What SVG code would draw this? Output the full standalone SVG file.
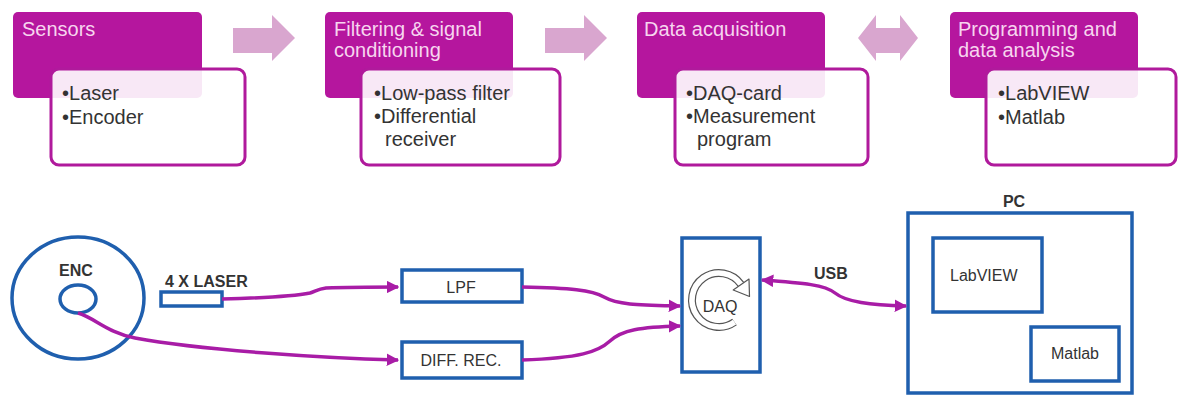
<svg xmlns="http://www.w3.org/2000/svg" width="1178" height="396" viewBox="0 0 1178 396">
<defs>
<style>
.hdr{fill:#b5169e;}
.card{fill:#ffffff;fill-opacity:0.9;stroke:#b01a9c;stroke-width:3;}
.ht{font-family:"Liberation Sans",Arial,sans-serif;font-size:20px;fill:#f7d5ef;}
.bt{font-family:"Liberation Sans",Arial,sans-serif;font-size:20px;fill:#333333;}
.flow{fill:#d9a6cf;}
.blue{fill:#ffffff;stroke:#1f5fae;stroke-width:3.5;}
.lbl{font-family:"Liberation Sans",Arial,sans-serif;font-size:16px;fill:#333333;}
.bl{font-family:"Liberation Sans",Arial,sans-serif;font-size:16px;font-weight:bold;fill:#333333;}
.con{fill:none;stroke:#a81ca6;stroke-width:3.5;}
</style>
<marker id="ah" viewBox="0 0 10 10" refX="9" refY="5" markerWidth="3.6" markerHeight="3.6" orient="auto-start-reverse" markerUnits="strokeWidth">
<path d="M0,0 L10,5 L0,10 z" fill="#a81ca6"/>
</marker>
</defs>

<g id="stage-sensors">
<rect class="hdr" x="13" y="12" width="189" height="86" rx="5"/>
<rect class="card" x="51" y="69" width="194" height="96" rx="8"/>
<text class="ht" x="22" y="36">Sensors</text>
<text class="bt" x="62" y="100">•Laser</text>
<text class="bt" x="62" y="124">•Encoder</text>
</g>

<g id="stage-filtering">
<rect class="hdr" x="325" y="12" width="188" height="86" rx="5"/>
<rect class="card" x="361" y="69" width="199" height="96" rx="8"/>
<text class="ht" x="334" y="36">Filtering &amp; signal</text>
<text class="ht" x="334" y="57">conditioning</text>
<text class="bt" x="374" y="100">•Low-pass filter</text>
<text class="bt" x="374" y="123">•Differential</text>
<text class="bt" x="385" y="146">receiver</text>
</g>

<g id="stage-daq">
<rect class="hdr" x="637" y="12" width="188" height="86" rx="5"/>
<rect class="card" x="675" y="69" width="193" height="96" rx="8"/>
<text class="ht" x="644" y="36">Data acquisition</text>
<text class="bt" x="686" y="100">•DAQ-card</text>
<text class="bt" x="686" y="123">•Measurement</text>
<text class="bt" x="697" y="146">program</text>
</g>

<g id="stage-programming">
<rect class="hdr" x="950" y="12" width="188" height="86" rx="5"/>
<rect class="card" x="986" y="69" width="190" height="96" rx="8"/>
<text class="ht" x="958" y="36">Programming and</text>
<text class="ht" x="958" y="57">data analysis</text>
<text class="bt" x="998" y="100">•LabVIEW</text>
<text class="bt" x="998" y="124">•Matlab</text>
</g>

<g id="flow-arrows">
<path class="flow" d="M233,28 L272,28 L272,15 L295,38 L272,61 L272,53 L233,53 z"/>
<path class="flow" d="M545,28 L584,28 L584,15 L607,38 L584,61 L584,53 L545,53 z"/>
<path class="flow" d="M858,38 L876,15 L876,28 L900,28 L900,15 L918,38 L900,61 L900,53 L876,53 L876,61 z"/>
</g>

<g id="encoder">
<ellipse class="blue" cx="78" cy="298" rx="66" ry="61" fill="none"/>
<ellipse class="blue" cx="78" cy="299" rx="18" ry="14"/>
<text class="bl" x="76" y="276" text-anchor="middle">ENC</text>
</g>

<g id="laser">
<rect class="blue" x="161" y="292" width="61" height="14" stroke-width="3"/>
<text class="bl" x="165" y="287">4 X LASER</text>
</g>

<g id="lpf">
<rect class="blue" x="402" y="270" width="120" height="32"/>
<text class="lbl" x="461" y="293" text-anchor="middle">LPF</text>
</g>

<g id="diffrec">
<rect class="blue" x="402" y="342" width="120" height="36"/>
<text class="lbl" x="461" y="366" text-anchor="middle">DIFF. REC.</text>
</g>

<g id="daq">
<rect class="blue" x="682" y="238" width="78" height="134"/>
<path d="M734.5,322.1 A27,27 0 1 1 741.1,284.5" fill="none" stroke="#555555" stroke-width="8"/>
<path d="M734.5,322.1 A27,27 0 1 1 741.1,284.5" fill="none" stroke="#ffffff" stroke-width="5.6"/>
<path d="M749,279 L733.2,290 L749.5,296.5 Z" fill="#ffffff" stroke="#555555" stroke-width="1.2" stroke-linejoin="round"/>
<text class="lbl" x="720" y="312" text-anchor="middle">DAQ</text>
</g>

<g id="pc">
<rect class="blue" x="908" y="213" width="224" height="180"/>
<text class="bl" x="1014" y="207" text-anchor="middle">PC</text>
</g>

<g id="labview">
<rect class="blue" x="933" y="238" width="109" height="74"/>
<text class="lbl" x="950" y="281">LabVIEW</text>
</g>

<g id="matlab">
<rect class="blue" x="1031" y="327" width="88" height="54"/>
<text class="lbl" x="1075" y="359" text-anchor="middle">Matlab</text>
</g>

<g id="connectors">
<path class="con" d="M222,299 C260,298 295,296 310,293 C316,291 318,289 326,288 C350,287 370,287 398,287" marker-end="url(#ah)"/>
<path class="con" d="M78,313 C95,318 108,333 135,338 C200,350 320,358 398,360" marker-end="url(#ah)"/>
<path class="con" d="M522,287 C570,288 592,290 604,297 C618,305 640,305 680,306" marker-end="url(#ah)"/>
<path class="con" d="M522,360 C580,358 598,352 610,341 C622,330 640,327 680,326" marker-end="url(#ah)"/>
<path class="con" d="M762,280 C805,283 825,285 835,293 C846,302 870,305 906,306" marker-start="url(#ah)" marker-end="url(#ah)"/>
<text class="bl" x="814" y="279">USB</text>
</g>
</svg>
